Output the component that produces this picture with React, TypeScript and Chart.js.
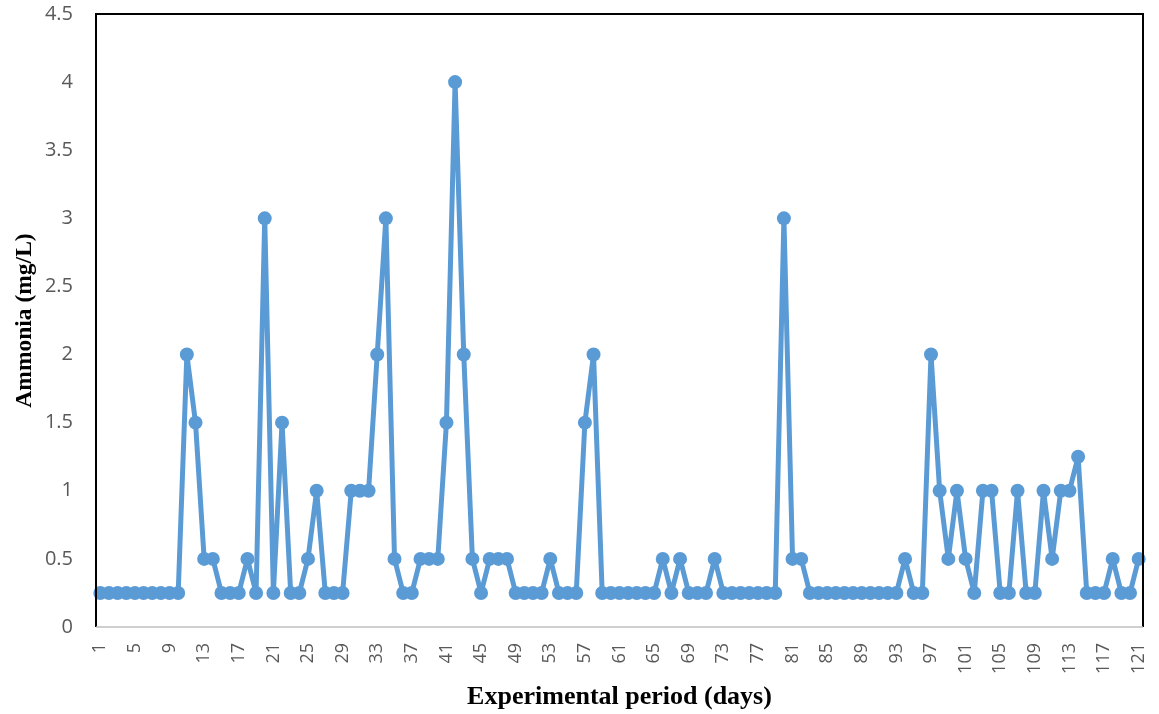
import React, { useEffect, useRef } from "react";
import { Chart, registerables } from "chart.js";

Chart.register(...registerables);

const days: string[] = Array.from({ length: 121 }, (_, i) => String(i + 1));

const ammonia: number[] = [
  0.25, 0.25, 0.25, 0.25, 0.25, 0.25, 0.25, 0.25, 0.25, 0.25, // 1-10
  2, 1.5, 0.5, 0.5, 0.25, 0.25, 0.25, 0.5, 0.25, 3, // 11-20
  0.25, 1.5, 0.25, 0.25, 0.5, 1, 0.25, 0.25, 0.25, 1, // 21-30
  1, 1, 2, 3, 0.5, 0.25, 0.25, 0.5, 0.5, 0.5, // 31-40
  1.5, 4, 2, 0.5, 0.25, 0.5, 0.5, 0.5, 0.25, 0.25, // 41-50
  0.25, 0.25, 0.5, 0.25, 0.25, 0.25, 1.5, 2, 0.25, 0.25, // 51-60
  0.25, 0.25, 0.25, 0.25, 0.25, 0.5, 0.25, 0.5, 0.25, 0.25, // 61-70
  0.25, 0.5, 0.25, 0.25, 0.25, 0.25, 0.25, 0.25, 0.25, 3, // 71-80
  0.5, 0.5, 0.25, 0.25, 0.25, 0.25, 0.25, 0.25, 0.25, 0.25, // 81-90
  0.25, 0.25, 0.25, 0.5, 0.25, 0.25, 2, 1, 0.5, 1, // 91-100
  0.5, 0.25, 1, 1, 0.25, 0.25, 1, 0.25, 0.25, 1, // 101-110
  0.5, 1, 1, 1.25, 0.25, 0.25, 0.25, 0.5, 0.25, 0.25, // 111-120
  0.5, // 121
];

const yTicks: number[] = [0, 0.5, 1, 1.5, 2, 2.5, 3, 3.5, 4, 4.5];

const xTitle = "Experimental period (days)";
const yTitle = "Ammonia (mg/L)";

const framePlugin = {
  id: "frame",
  afterDraw(chart: any) {
    const { ctx, chartArea } = chart;
    const { left, right, top, bottom } = chartArea;
    ctx.save();
    ctx.lineCap = "butt";
    ctx.strokeStyle = "#000000";
    ctx.lineWidth = 2;
    ctx.beginPath();
    ctx.moveTo(left, bottom);
    ctx.lineTo(left, top);
    ctx.lineTo(right, top);
    ctx.lineTo(right, bottom);
    ctx.stroke();
    ctx.strokeStyle = "#BFBFBF";
    ctx.lineWidth = 1.5;
    ctx.beginPath();
    ctx.moveTo(left, bottom);
    ctx.lineTo(right, bottom);
    ctx.stroke();
    ctx.restore();
  },
};

export default function App() {
  const ref = useRef<HTMLCanvasElement | null>(null);

  useEffect(() => {
    document.body.style.margin = "0";
    const canvas = ref.current;
    if (!canvas) return;
    const chart = new Chart(canvas, {
      type: "line",
      data: {
        labels: days,
        datasets: [
          {
            data: ammonia,
            borderColor: "#5B9BD5",
            backgroundColor: "#5B9BD5",
            borderWidth: 5,
            borderJoinStyle: "round",
            borderCapStyle: "round",
            pointRadius: 7,
            pointBorderWidth: 0,
            pointBackgroundColor: "#5B9BD5",
            tension: 0,
          },
        ],
      },
      options: {
        animation: false,
        responsive: false,
        maintainAspectRatio: false,
        layout: { padding: { left: 0, top: 14, right: 16, bottom: 0 } },
        plugins: {
          legend: { display: false },
          tooltip: { enabled: false },
        },
        scales: {
          x: {
            type: "category",
            offset: true,
            grid: { display: false, drawTicks: false },
            border: { display: false },
            ticks: {
              autoSkip: false,
              minRotation: 90,
              maxRotation: 90,
              padding: 16,
              color: "#595959",
              font: { family: "'Open Sans', 'Liberation Sans', sans-serif", size: 18 },
              callback: (_v: any, i: number) => (i % 4 === 0 ? days[i] : ""),
            },
            title: {
              display: true,
              text: xTitle,
              color: "#000000",
              font: { family: "'Liberation Serif', 'Times New Roman', serif", size: 26, weight: "bold" },
              padding: { top: 0, bottom: 1 },
            },
            afterFit: (scale: any) => {
              scale.height = 714 - 627;
              scale.paddingLeft = 0;
              scale.paddingRight = 0;
            },
          },
          y: {
            min: 0,
            max: 4.5,
            afterBuildTicks: (scale: any) => {
              scale.ticks = yTicks.map((v) => ({ value: v }));
            },
            grid: { display: false, drawTicks: false },
            border: { display: false },
            ticks: {
              padding: 23,
              color: "#595959",
              font: { family: "'Open Sans', 'Liberation Sans', sans-serif", size: 20 },
              callback: (v: any) => String(v),
            },
            title: {
              display: true,
              text: yTitle,
              color: "#000000",
              font: { family: "'Liberation Serif', 'Times New Roman', serif", size: 23.5, weight: "bold" },
              padding: { top: 11, bottom: 0 },
            },
            afterFit: (scale: any) => {
              scale.width = 96;
              scale.paddingTop = 0;
              scale.paddingBottom = 0;
            },
          },
        },
      },
      plugins: [framePlugin],
    });
    return () => chart.destroy();
  }, []);

  return (
    <div style={{ width: 1159, height: 714 }}>
      <canvas ref={ref} width={1159} height={714} style={{ display: "block" }} />
    </div>
  );
}
